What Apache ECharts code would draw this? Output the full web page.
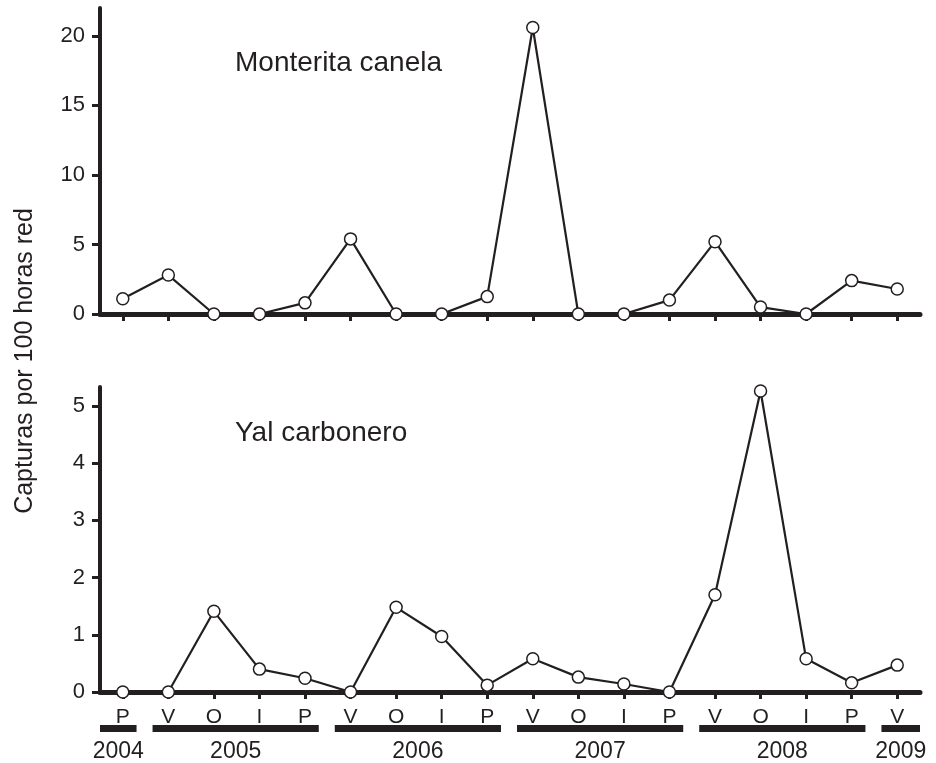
<!DOCTYPE html>
<html>
<head>
<meta charset="utf-8">
<script src="https://cdn.jsdelivr.net/npm/echarts@6/dist/echarts.min.js"></script>
<style>
  html, body { margin: 0; padding: 0; background: #fff; }
  #chart { width: 936px; height: 763px; }
</style>
</head>
<body>
<div id="chart"></div>
<script>
// estaciones
const seasons = ['P', 'V', 'O', 'I', 'P', 'V', 'O', 'I', 'P', 'V', 'O', 'I', 'P', 'V', 'O', 'I', 'P', 'V']
// capturas por 100 horas red
const monterita = [1.1, 2.8, 0, 0, 0.8, 5.4, 0, 0, 1.25, 20.6, 0, 0, 1.0, 5.2, 0.5, 0, 2.4, 1.8]
const yal = [0, 0, 1.41, 0.4, 0.24, 0, 1.48, 0.97, 0.12, 0.58, 0.26, 0.14, 0, 1.7, 5.26, 0.58, 0.16, 0.47]
// años: indice inicial y final de cada tramo
const years = ['2004', '2005', '2006', '2007', '2008', '2009']
const yearStart = [0, 1, 5, 9, 13, 17]
const yearEnd = [0, 4, 8, 12, 16, 17]
const ticksTop = [0, 5, 10, 15, 20]
const ticksBottom = [0, 1, 2, 3, 4, 5]

const ink = '#231f20'
const font = 'Liberation Sans, Arial, sans-serif'

const myChart = echarts.init(document.getElementById('chart'))

function yAxisCfg(gridIndex, max, ticks) {
  return {
    type: 'value',
    gridIndex: gridIndex,
    min: 0,
    max: max,
    splitLine: { show: false },
    axisLine: { show: true, lineStyle: { color: ink, width: 4 } },
    axisTick: { show: true, length: 8, customValues: ticks, lineStyle: { color: ink, width: 3 } },
    axisLabel: { customValues: ticks, color: ink, fontSize: 22, fontFamily: font, margin: 15 }
  }
}

function xAxisCfg(gridIndex, showLabel) {
  return {
    type: 'category',
    gridIndex: gridIndex,
    data: seasons,
    boundaryGap: true,
    axisLine: { show: true, onZero: false, lineStyle: { color: ink, width: 5 } },
    axisTick: { show: true, alignWithLabel: true, length: 7, lineStyle: { color: ink, width: 3 } },
    axisLabel: { show: showLabel, interval: 0, color: ink, fontSize: 21, fontFamily: font, margin: 15 }
  }
}

function lineSeries(idx, data) {
  return {
    type: 'line',
    xAxisIndex: idx,
    yAxisIndex: idx,
    data: data,
    symbol: 'circle',
    symbolSize: 12,
    lineStyle: { color: ink, width: 2.2 },
    itemStyle: { color: '#fff', borderColor: ink, borderWidth: 1.5 },
    z: 5
  }
}

const option = {
  backgroundColor: '#fff',
  animation: false,
  grid: [
    { left: 100, right: 16, top: 8, height: 306 },
    { left: 100, right: 16, top: 387, height: 305 }
  ],
  xAxis: [xAxisCfg(0, false), xAxisCfg(1, true)],
  yAxis: [yAxisCfg(0, 22, ticksTop), yAxisCfg(1, 5.33, ticksBottom)],
  graphic: [
    {
      type: 'text', left: 235, top: 49,
      style: { text: 'Monterita canela', font: '28px ' + font, fill: ink }
    },
    {
      type: 'text', left: 235, top: 419,
      style: { text: 'Yal carbonero', font: '28px ' + font, fill: ink }
    },
    {
      type: 'text', x: 25, y: 361, rotation: Math.PI / 2,
      style: { text: 'Capturas por 100 horas red', font: '25px ' + font, fill: ink, align: 'center', verticalAlign: 'middle' }
    }
  ],
  series: [
    lineSeries(0, monterita),
    lineSeries(1, yal),
    // barras de años bajo el eje
    {
      type: 'custom',
      xAxisIndex: 1,
      yAxisIndex: 1,
      silent: true,
      clip: false,
      data: yearStart.map((s, i) => [s, yearEnd[i]]),
      renderItem: function (params, api) {
        const s = api.value(0)
        const e = api.value(1)
        const half = api.size([1, 0])[0] / 2
        const p0 = api.coord([s, 0])
        const p1 = api.coord([e, 0])
        const x0 = p0[0] - half + (s === 0 ? 0 : 7)
        const x1 = p1[0] + half - (e === seasons.length - 1 ? 0 : 9)
        const y = p0[1] + 33
        return {
          type: 'group',
          children: [
            { type: 'rect', shape: { x: x0, y: y, width: x1 - x0, height: 7 }, style: { fill: ink } },
            {
              type: 'text',
              style: {
                text: years[params.dataIndex], x: (x0 + x1) / 2, y: y + 27,
                font: '23px ' + font, fill: ink, align: 'center', verticalAlign: 'middle'
              }
            }
          ]
        }
      }
    }
  ]
}

myChart.setOption(option)
</script>
</body>
</html>
